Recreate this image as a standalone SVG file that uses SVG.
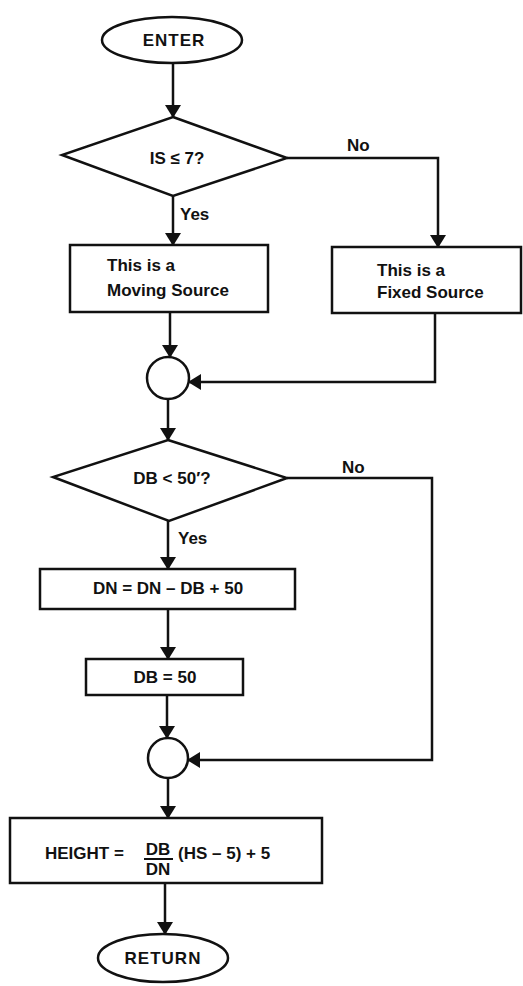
<svg xmlns="http://www.w3.org/2000/svg" width="523" height="986" viewBox="0 0 523 986">
<defs>
<marker id="arr" markerUnits="userSpaceOnUse" markerWidth="16" markerHeight="18" viewBox="0 -9 13 18" refX="12" refY="0" orient="auto">
<path d="M0,-8 L13,0 L0,8 Z" fill="#111"/>
</marker>
<style>
.s{fill:#fff;stroke:#111;stroke-width:2.5}
.c{fill:none;stroke:#111;stroke-width:2.5;marker-end:url(#arr)}
.t{font-family:"Liberation Sans",Arial,sans-serif;font-size:17px;font-weight:bold;fill:#111}
.m{text-anchor:middle}
</style>
</defs>
<g id="connectors">
<path class="c" d="M173,63 V117"/>
<path class="c" d="M173,196 V245"/>
<path class="c" d="M287,158 H438 V247"/>
<path class="c" d="M170,312 V357"/>
<path class="c" d="M435,313 V382 H189"/>
<path class="c" d="M168,399 V440"/>
<path class="c" d="M287,478 H432 V760 H188"/>
<path class="c" d="M168,521 V569"/>
<path class="c" d="M168,609 V659"/>
<path class="c" d="M167,695 V738"/>
<path class="c" d="M168,778 V818"/>
<path class="c" d="M165,883 V934"/>
<text class="t" x="347" y="151">No</text>
<text class="t" x="180" y="220">Yes</text>
<text class="t" x="342" y="473">No</text>
<text class="t" x="178" y="544">Yes</text>
</g>
<g id="enter">
<ellipse class="s" cx="172" cy="40" rx="70" ry="23"/>
<text class="t m" x="174" y="46" letter-spacing="1">ENTER</text>
</g>
<g id="d1">
<polygon class="s" points="173,117 287,158 173,196 62,155"/>
<text class="t m" x="177" y="164">IS ≤ 7?</text>
</g>
<g id="moving">
<rect class="s" x="70" y="245" width="198" height="67"/>
<text class="t" x="107" y="271">This is a</text>
<text class="t" x="107" y="296">Moving Source</text>
</g>
<g id="fixed">
<rect class="s" x="332" y="247" width="189" height="66"/>
<text class="t" x="377" y="276">This is a</text>
<text class="t" x="377" y="298">Fixed Source</text>
</g>
<g id="j1">
<circle class="s" cx="168" cy="378" r="21"/>
</g>
<g id="d2">
<polygon class="s" points="168,440 287,478 169,521 53,477"/>
<text class="t m" x="172" y="484">DB &lt; 50′?</text>
</g>
<g id="dn">
<rect class="s" x="40" y="569" width="255" height="40"/>
<text class="t m" x="168" y="594">DN = DN – DB + 50</text>
</g>
<g id="db">
<rect class="s" x="86" y="659" width="157" height="36"/>
<text class="t m" x="165" y="683">DB = 50</text>
</g>
<g id="j2">
<circle class="s" cx="168" cy="758" r="20"/>
</g>
<g id="height">
<rect class="s" x="10" y="818" width="312" height="65"/>
<text class="t" x="45" y="859">HEIGHT =</text>
<text class="t m" x="158" y="855">DB</text>
<line x1="144" y1="859" x2="173" y2="859" stroke="#111" stroke-width="2"/>
<text class="t m" x="158" y="875">DN</text>
<text class="t" x="178" y="859">(HS – 5) + 5</text>
</g>
<g id="return">
<ellipse class="s" cx="163" cy="958" rx="65" ry="24"/>
<text class="t m" x="163" y="964" letter-spacing="1">RETURN</text>
</g>
</svg>
